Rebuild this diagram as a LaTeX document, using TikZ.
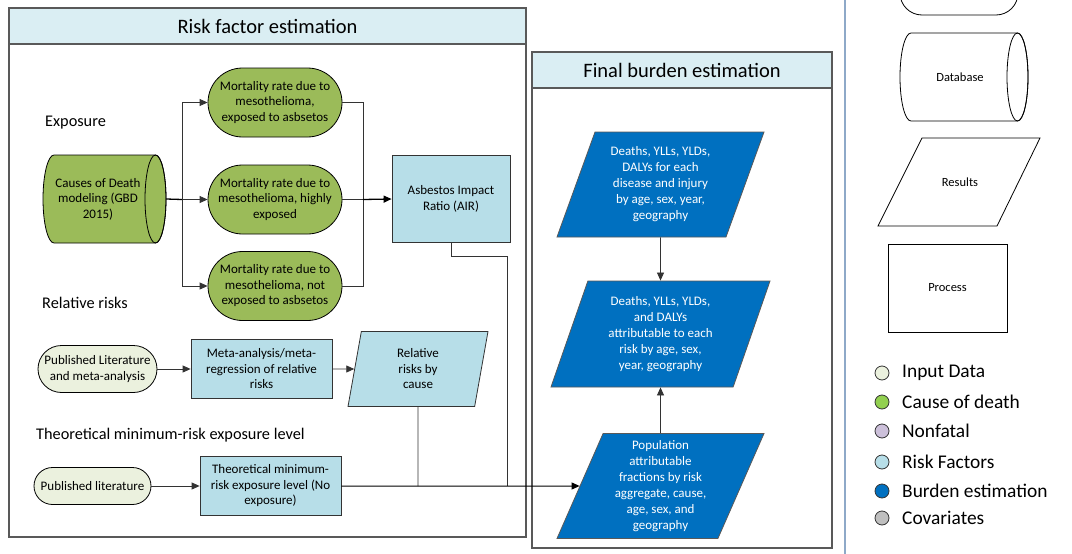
\documentclass[tikz,border=0pt]{standalone}
\usepackage{fontspec}
\setmainfont{Carlito}
\usetikzlibrary{shapes.geometric,shapes.misc,arrows.meta}
\definecolor{greenA}{HTML}{9BBB59}
\definecolor{lblue}{HTML}{B7DEE8}
\definecolor{tband}{HTML}{DAEEF3}
\definecolor{dblue}{HTML}{0070C0}
\definecolor{inp}{HTML}{EBF1DE}
\definecolor{cgreen}{HTML}{92D050}
\definecolor{nonf}{HTML}{CCC0DA}
\definecolor{covar}{HTML}{BFBFBF}
\definecolor{lnc}{HTML}{333333}
\definecolor{frm}{HTML}{595959}
\definecolor{sepc}{HTML}{8EA9C8}
\begin{document}
\begin{tikzpicture}[x=1pt,y=-1pt,
  txt/.style={font=\fontsize{13}{15.5}\selectfont, align=center, text=black, inner sep=0pt},
  wtxt/.style={font=\fontsize{13}{16}\selectfont, align=center, text=white, inner sep=0pt},
  term/.style={rounded rectangle, draw=black, line width=0.8pt, txt},
  greenterm/.style={term, fill=greenA, minimum width=134pt, minimum height=69pt},
  inputterm/.style={term, fill=inp},
  procbox/.style={rectangle, draw=lnc, fill=lblue, line width=0.8pt, txt},
  para/.style={trapezium, trapezium stretches body, line width=0.8pt},
  dbline/.style={draw=black, line width=0.8pt},
  frame/.style={draw=frm, line width=1.2pt},
  band/.style={fill=tband, draw=frm, line width=1.2pt},
  title/.style={font=\fontsize{20.5}{24}\selectfont, text=black},
  section/.style={font=\fontsize{16.3}{19}\selectfont, anchor=west, text=black, inner sep=0pt},
  conn/.style={draw=lnc, line width=0.8pt},
  arr/.style={conn, -{Triangle[length=8pt,width=7pt]}},
  thickarr/.style={draw=black, line width=1.3pt, -{Triangle[length=8pt,width=7pt]}},
  legdot/.style={circle, draw=lnc, line width=0.8pt, minimum size=14pt, inner sep=0pt},
  legtxt/.style={font=\fontsize{19.4}{22}\selectfont, anchor=west, text=black, inner sep=0pt},
  smalltxt/.style={font=\fontsize{12.5}{15}\selectfont, text=black, inner sep=0pt}
]
\useasboundingbox (0,0) rectangle (1072,554);
\clip (0,0) rectangle (1072,554);

% ---- Risk factor frame
\draw[frame] (9,8) rectangle (526,537);
\draw[band] (9,8) rectangle (526,44);
\node[title] (t1) at (267.5,26) {Risk factor estimation};

% ---- Final burden frame
\draw[frame] (532,52) rectangle (832,548);
\draw[band] (532,52) rectangle (832,88);
\node[title] (t2) at (682,70) {Final burden estimation};

% separator
\draw[sepc, line width=1.5pt] (845,0) -- (845,554);

% ---- section labels
\node[section] (lexp) at (45,123) {Exposure};
\node[section] (lrr) at (42,303) {Relative risks};
\node[section] (ltm) at (36,435) {Theoretical minimum-risk exposure level};

% ---- exposure nodes
% database shape (Causes of Death)
\path[dbline, fill=greenA] (54,155) -- (155.5,155) arc(-90:90:10.5 and 44) -- (54,243) arc(90:270:11 and 44) -- cycle;
\draw[dbline] (155.5,199) ellipse (10.5 and 44);
\node[rectangle, minimum width=123pt, minimum height=88pt, inner sep=0pt] (cod) at (104.5,199) {};
\node[txt] (codt) at (98,199) {Causes of Death\\modeling (GBD\\2015)};

\node[greenterm] (g1) at (275,102.5) {Mortality rate due to\\mesothelioma,\\exposed to asbsetos};
\node[greenterm] (g2) at (275,199.5) {Mortality rate due to\\mesothelioma, highly\\exposed};
\node[greenterm] (g3) at (275,286) {Mortality rate due to\\mesothelioma, not\\exposed to asbsetos};
\node[procbox, minimum width=118pt, minimum height=87pt] (air) at (451,199) {Asbestos Impact\\Ratio (AIR)};

\coordinate (j1) at (182,199.5);
\coordinate (j2) at (363,199.5);
\draw[draw=black, line width=1.3pt] (cod.east) -- (j1);
\draw[arr] (j1) |- (g1.west);
\draw[arr] (j1) -- (g2.west);
\draw[arr] (j1) |- (g3.west);
\draw[conn] (g1.east) -| (j2);
\draw[conn] (g3.east) -| (j2);
\draw[conn] (g2.east) -- (j2);
\draw[thickarr] (j2) -- (air.west);

% ---- relative risks row
\node[inputterm, minimum width=119pt, minimum height=47pt] (pl1) at (97.5,369) {Published Literature\\and meta-analysis};
\node[procbox, minimum width=141pt, minimum height=59pt] (meta) at (261.5,369) {Meta-analysis/meta-\\regression of relative\\risks};
\node[para, trapezium left angle=71.6, trapezium right angle=108.4, draw=lnc, fill=lblue,
      minimum width=140pt, minimum height=75pt, txt] (rr) at (418,369) {Relative\\risks by\\cause};
\draw[arr] (pl1.east) -- (meta.west);
\draw[arr] (meta.east) -- (rr.west);

% ---- TMREL row
\node[inputterm, minimum width=117pt, minimum height=37pt] (pl2) at (92.5,486) {Published literature};
\node[procbox, minimum width=141pt, minimum height=59pt] (tm) at (270.5,486) {Theoretical minimum-\\risk exposure level (No\\exposure)};

% ---- final burden nodes
\node[para, trapezium left angle=63.2, trapezium right angle=116.8, draw=frm, fill=dblue,
      minimum width=207pt, minimum height=105pt, wtxt] (d1) at (660.5,184.5) {Deaths, YLLs, YLDs,\\DALYs for each\\disease and injury\\by age, sex, year,\\geography};
\node[para, trapezium left angle=63.9, trapezium right angle=116.1, draw=frm, fill=dblue,
      minimum width=219pt, minimum height=106pt, wtxt] (d2) at (660.5,334) {Deaths, YLLs, YLDs,\\and DALYs\\attributable to each\\risk by age, sex,\\year, geography};
\node[para, trapezium left angle=63.2, trapezium right angle=116.8, draw=frm, fill=dblue,
      minimum width=207pt, minimum height=105pt, wtxt] (paf) at (660.5,486) {Population\\attributable\\fractions by risk\\aggregate, cause,\\age, sex, and\\geography};
\draw[arr] (d1.south) -- (d2.north);
\draw[arr] (paf.north) -- (d2.south);

% ---- connectors into PAF
\coordinate (a1) at (451,256);
\coordinate (j3) at (507,486);
\coordinate (j4) at (418,486);
\draw[arr] (pl2.east) -- (tm.west);
\draw[conn] (air.south) -- (a1) -| (j3);
\draw[conn] (rr.south) -- (j4);
\draw[draw=black, line width=1pt, -{Triangle[length=8pt,width=7pt]}] (tm.east) -- (paf);

% ---- legend shapes
\node[rounded rectangle, draw=black, line width=0.8pt, fill=white, minimum width=118pt, minimum height=44pt,
      smalltxt] (lin) at (959,-7) {Input Data};
\path[dbline, fill=white] (911,33) -- (1017.5,33) arc(-90:90:10.5 and 44) -- (911,121) arc(90:270:11 and 44) -- cycle;
\draw[dbline] (1017.5,77) ellipse (10.5 and 44);
\node[smalltxt] (ldb) at (960,77) {Database};
\path[dbline, fill=white] (922,138) -- (1040,138) -- (997,226) -- (878,226) -- cycle;
\node[smalltxt] (lres) at (960,182) {Results};
\node[rectangle, draw=black, line width=0.8pt, minimum width=119pt, minimum height=88pt,
      smalltxt] (lproc) at (947.5,288) {Process};

% ---- legend colours
\node[legdot, fill=inp] (c1) at (882,373) {};
\node[legdot, fill=cgreen] (c2) at (882,402) {};
\node[legdot, fill=nonf] (c3) at (882,431) {};
\node[legdot, fill=lblue] (c4) at (882,462) {};
\node[legdot, fill=dblue] (c5) at (882,491) {};
\node[legdot, fill=covar] (c6) at (882,518) {};
\node[legtxt] (e1) at (902,373) {Input Data};
\node[legtxt] (e2) at (902,402) {Cause of death};
\node[legtxt] (e3) at (902,431) {Nonfatal};
\node[legtxt] (e4) at (902,462) {Risk Factors};
\node[legtxt] (e5) at (902,491) {Burden estimation};
\node[legtxt] (e6) at (902,518) {Covariates};
\end{tikzpicture}
\end{document}
